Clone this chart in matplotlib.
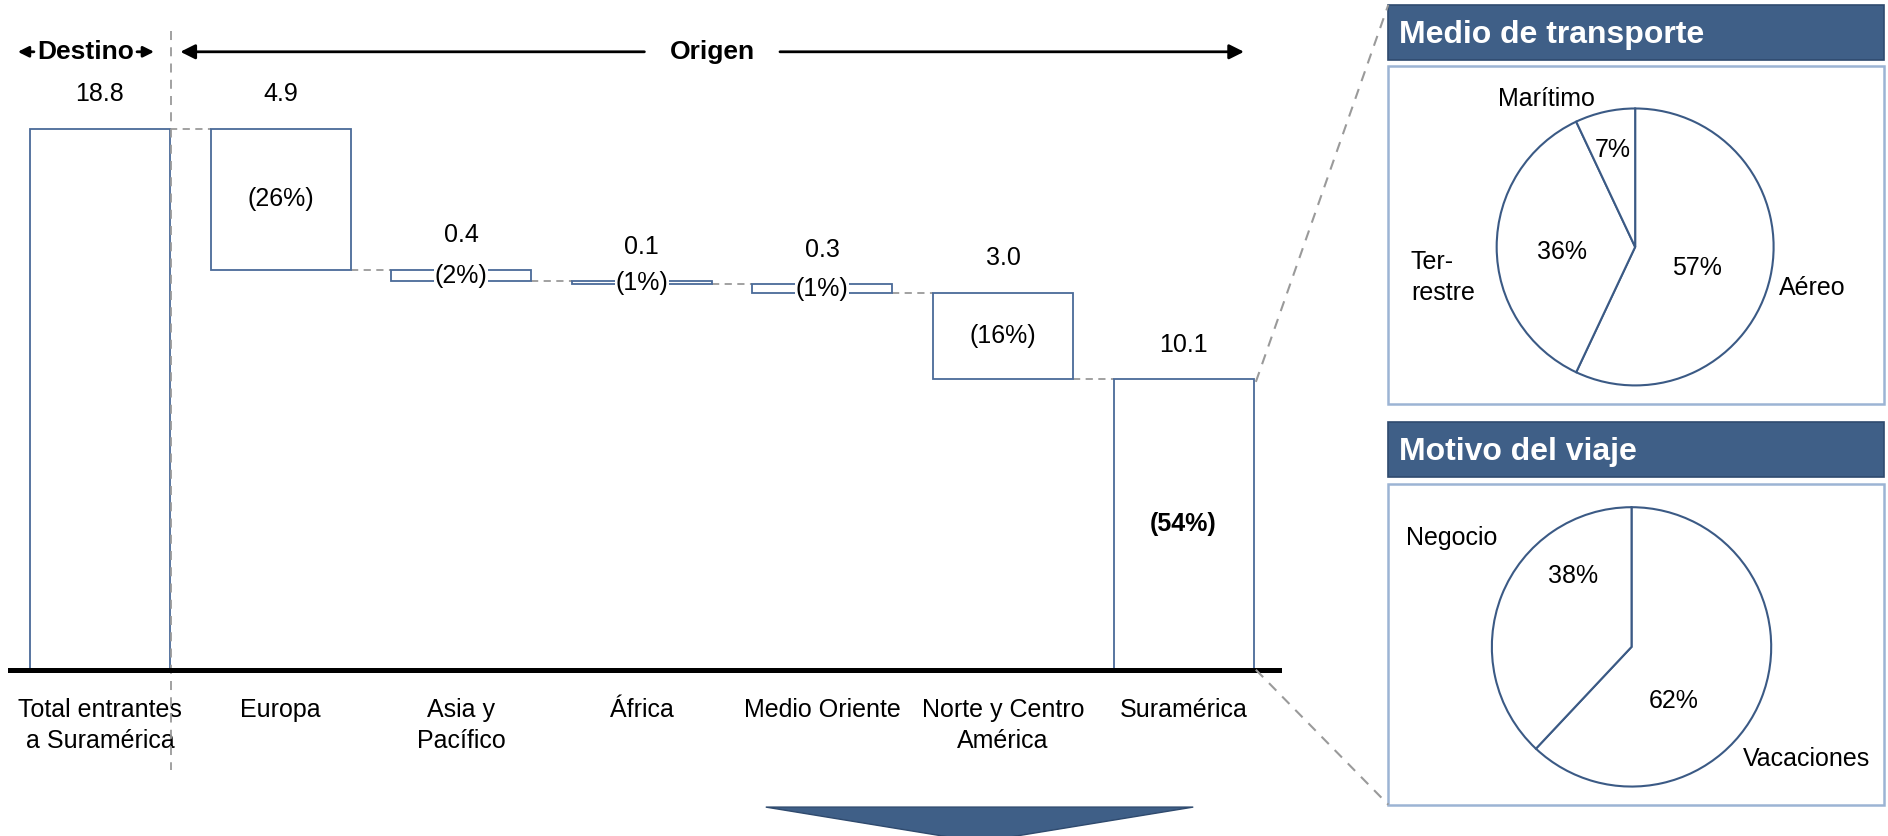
import matplotlib
matplotlib.use('Agg')
import matplotlib.pyplot as plt
from matplotlib.patches import Rectangle, Polygon
from matplotlib.lines import Line2D

plt.rcParams['font.family'] = ['Liberation Sans', 'DejaVu Sans']

# datos del grafico
categorias = ['Total entrantes\na Suramérica', 'Europa', 'Asia y\nPacífico', 'África',
              'Medio Oriente', 'Norte y Centro\nAmérica', 'Suramérica']
valores = [18.8, 4.9, 0.4, 0.1, 0.3, 3.0, 10.1]
etiquetas_valor = ['18.8', '4.9', '0.4', '0.1', '0.3', '3.0', '10.1']
porcentajes = [None, '(26%)', '(2%)', '(1%)', '(1%)', '(16%)', '(54%)']

transporte_labels = ['Aéreo', 'Ter-\nrestre', 'Marítimo']
transporte_valores = [57, 36, 7]
motivo_labels = ['Vacaciones', 'Negocio']
motivo_valores = [62, 38]

azul = '#3F5F87'
borde = '#4A6A98'
gris = '#9A9A9A'

W, H = 1568.0, 694.0   # marco de referencia para el layout
def fx(X):
    return X / W
def fy(Y):
    return 1 - Y / H

fig = plt.figure(figsize=(18.88, 8.36), dpi=100)

# --- cascada ---
ax = fig.add_axes([fx(8), fy(556), fx(1062) - fx(8), 1 - fy(556)])
ancho = 0.775
x = list(range(len(valores)))
bottoms = []
nivel = valores[0]
bottoms.append(0)
for v in valores[1:]:
    nivel = nivel - v
    bottoms.append(nivel)

ax.bar(x, valores, bottom=bottoms, width=ancho, color='white', edgecolor=borde, linewidth=1.3, zorder=2)

for i in range(len(valores)):
    top = bottoms[i] + valores[i]
    ax.text(x[i], top + 1.2, etiquetas_valor[i], ha='center', va='center', fontsize=18)
    if porcentajes[i]:
        ax.text(x[i], bottoms[i] + valores[i] / 2, porcentajes[i], ha='center', va='center',
                fontsize=18, fontweight='bold' if i == len(valores) - 1 else 'normal', zorder=4,
                bbox=dict(facecolor='white', edgecolor='none', pad=0.5))

# lineas de conexion
for i in range(len(valores) - 1):
    nivel = bottoms[i] if i > 0 else valores[0]
    ax.plot([x[i] + ancho / 2, x[i + 1] - ancho / 2], [nivel, nivel], color=gris,
            linestyle=(0, (4, 3)), linewidth=1.3, zorder=1)

ax.axhline(0, color='black', linewidth=3.6, zorder=3, clip_on=False)
ax.set_xlim(-0.5, 6.527)
ax.set_ylim(0, 556 * 18.8 / 449)
ax.set_xticks(x)
ax.set_xticklabels(categorias, fontsize=18, linespacing=1.4)
ax.tick_params(axis='x', length=0, pad=20)
ax.set_yticks([])
for s in ax.spines.values():
    s.set_visible(False)

# separador destino / origen
ax.plot([0.392, 0.392], [22.2, -3.5], color=gris, linestyle=(0, (5, 4)), linewidth=1.3, clip_on=False)

yh = 21.48
ax.text(-0.08, yh, 'Destino', ha='center', va='center', fontsize=19, fontweight='bold')
ax.annotate('', xy=(-0.47, yh), xytext=(-0.35, yh),
            arrowprops=dict(arrowstyle='-|>', color='black', lw=2, mutation_scale=16))
ax.annotate('', xy=(0.315, yh), xytext=(0.19, yh),
            arrowprops=dict(arrowstyle='-|>', color='black', lw=2, mutation_scale=16))
ax.text(3.39, yh, 'Origen', ha='center', va='center', fontsize=19, fontweight='bold')
ax.annotate('', xy=(0.43, yh), xytext=(3.03, yh),
            arrowprops=dict(arrowstyle='-|>', color='black', lw=2, mutation_scale=22))
ax.annotate('', xy=(6.35, yh), xytext=(3.75, yh),
            arrowprops=dict(arrowstyle='-|>', color='black', lw=2, mutation_scale=22))

# --- paneles derecha ---
def panel(y_head, y_box0, y_box1, titulo):
    fig.add_artist(Rectangle((fx(1153), fy(y_head + 46)), fx(1565) - fx(1153), 46 / H,
                             transform=fig.transFigure, facecolor=azul, edgecolor='#2F4A6E',
                             lw=1.2, zorder=0.5))
    fig.text(fx(1162), fy(y_head + 25), titulo, color='white', fontsize=23, fontweight='bold',
             ha='left', va='center')
    fig.add_artist(Rectangle((fx(1153), fy(y_box1)), fx(1565) - fx(1153), (y_box1 - y_box0) / H,
                             transform=fig.transFigure, facecolor='white', edgecolor='#9CB4D4',
                             lw=1.8, zorder=0.5))

panel(4, 55, 335, 'Medio de transporte')
panel(350, 402, 668, 'Motivo del viaje')

def pie(cx, cy, r, vals, textos):
    m = 1.05
    a = fig.add_axes([fx(cx - r * m), fy(cy + r * m), 2 * r * m / W, 2 * r * m / H])
    a.set_zorder(3)
    a.pie(vals, startangle=90, counterclock=False, colors=['white'],
          wedgeprops=dict(edgecolor='#3B5A85', linewidth=1.5))
    a.set_xlim(-m, m)
    a.set_ylim(-m, m)
    a.axis('off')
    for t, px, py, ha in textos:
        a.text(px, py, t, ha=ha, va='center', fontsize=18, linespacing=1.4)

pie(1358, 205, 115, transporte_valores, [
    (transporte_labels[2], -0.64, 1.07, 'center'),
    ('7%', -0.16, 0.70, 'center'),
    (transporte_labels[1], -1.62, -0.22, 'left'),
    ('36%', -0.53, -0.04, 'center'),
    ('57%', 0.45, -0.15, 'center'),
    (transporte_labels[0], 1.28, -0.30, 'center'),
])
pie(1355, 537, 116, motivo_valores, [
    (motivo_labels[1], -1.29, 0.78, 'center'),
    ('38%', -0.42, 0.51, 'center'),
    ('62%', 0.30, -0.39, 'center'),
    (motivo_labels[0], 1.25, -0.80, 'center'),
])

# lineas de zoom
fig.add_artist(Line2D([fx(1043), fx(1153)], [fy(317), fy(4)], transform=fig.transFigure,
                      color=gris, linestyle=(0, (5, 4)), linewidth=1.5))
fig.add_artist(Line2D([fx(1043), fx(1153)], [fy(556), fy(668)], transform=fig.transFigure,
                      color=gris, linestyle=(0, (5, 4)), linewidth=1.5))

# flecha inferior
fig.add_artist(Polygon([(fx(636), fy(670)), (fx(991), fy(670)), (fx(813.5), fy(699))],
                       closed=True, transform=fig.transFigure, facecolor=azul, edgecolor='#2F4A6E', lw=1))

fig.savefig('out.png', dpi=100)
